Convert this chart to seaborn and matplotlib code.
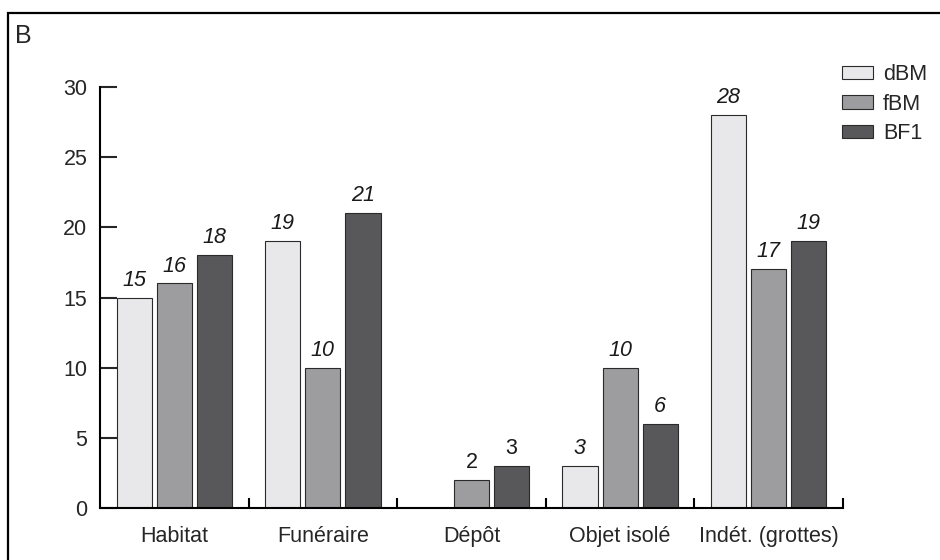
import numpy as np
import pandas as pd
import matplotlib
matplotlib.use('Agg')
import matplotlib.pyplot as plt
from matplotlib.patches import Rectangle
from matplotlib.ticker import FixedLocator
import seaborn as sns

sns.set_style('ticks')
plt.rcParams['font.family'] = ['Liberation Sans', 'DejaVu Sans']

categories = ['Habitat', 'Funéraire', 'Dépôt', 'Objet isolé', 'Indét. (grottes)']
series = ['dBM', 'fBM', 'BF1']
dbm = [15, 19, 0, 3, 28]
fbm = [16, 10, 2, 10, 17]
bf1 = [18, 21, 3, 6, 19]
colors = ['#e8e8ea', '#9d9d9f', '#58585a']

data = pd.DataFrame({
    'cat': categories * 3,
    'serie': [s for s in series for _ in categories],
    'val': dbm + fbm + bf1,
})

fig = plt.figure(figsize=(9.4, 5.6), dpi=100)
ax = fig.add_axes([100 / 940, 1 - 508 / 560, 743 / 940, 421 / 560])

sns.barplot(data=data, x='cat', y='val', hue='serie', order=categories,
            hue_order=series, palette=colors, width=0.81, gap=0.126,
            edgecolor='#2a2a2a', linewidth=0.8, saturation=1, ax=ax,
            legend=False)

# value labels above the bars
for i, cont in enumerate(ax.containers):
    vals = data[data.serie == series[i]]['val'].tolist()
    labs = ['' if v == 0 else str(v) for v in vals]
    texts = ax.bar_label(cont, labels=labs, padding=5, fontsize=15.5,
                         fontstyle='italic', color='#1a1a1a')
    texts[2].set_fontstyle('normal')

ax.set_xlim(-0.5, 4.5)
ax.set_ylim(0, 30)
ax.set_yticks([0, 5, 10, 15, 20, 25, 30])
ax.set_xlabel('')
ax.set_ylabel('')
sns.despine(ax=ax)
for sp in ['left', 'bottom']:
    ax.spines[sp].set_linewidth(1.5)
    ax.spines[sp].set_color('black')

ax.tick_params(axis='y', direction='in', length=12.5, width=1.5,
               labelsize=15.5, pad=9)
ax.tick_params(axis='x', which='major', length=0, labelsize=15.5, pad=13)
ax.xaxis.set_minor_locator(FixedLocator([0.5, 1.5, 2.5, 3.5, 4.5]))
ax.tick_params(axis='x', which='minor', direction='in', length=7,
               width=1.5, color='black')

handles = [Rectangle((0, 0), 1, 1, facecolor=c, edgecolor='#2a2a2a',
                     linewidth=0.8) for c in colors]
fig.legend(handles, series, loc='upper left',
           bbox_to_anchor=(842 / 940, 1 - 64 / 560), frameon=False,
           fontsize=15.5, handlelength=1.45, handleheight=0.6,
           handletextpad=0.45, labelspacing=0.4, borderpad=0,
           borderaxespad=0)

# outer frame (only left and top edges fall inside the picture)
fig.patches.append(Rectangle((8 / 940, -0.1), 1.2, 1 - 13 / 560 + 0.1,
                             transform=fig.transFigure, fill=False,
                             edgecolor='black', linewidth=1.6))
fig.text(15 / 940, 1 - 43 / 560, 'B', fontsize=18, ha='left', va='baseline')

fig.savefig('out.png', dpi=100)
